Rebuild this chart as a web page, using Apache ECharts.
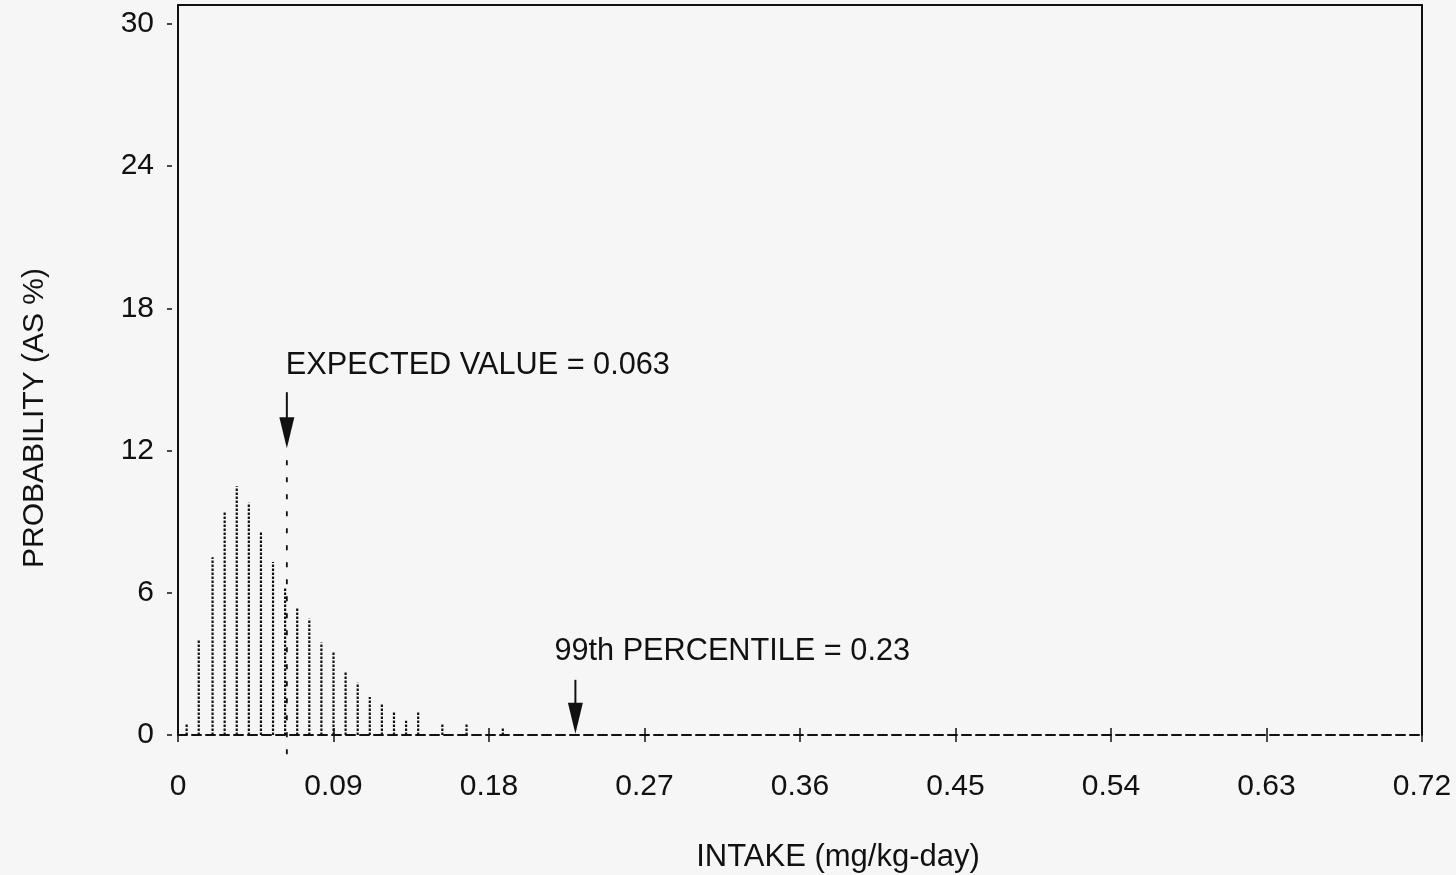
<!DOCTYPE html>
<html>
<head>
<meta charset="utf-8">
<title>Intake probability distribution</title>
<script src="https://cdn.jsdelivr.net/npm/echarts@6/dist/echarts.min.js"></script>
<style>
  html, body { margin: 0; padding: 0; background: #f6f6f6; }
  #chart { width: 1456px; height: 875px; }
</style>
</head>
<body>
<div id="chart"></div>
<script>
// Histogram columns: intake (mg/kg-day) and probability (%)
const intake = [0.005, 0.012, 0.020, 0.027, 0.034, 0.041, 0.048, 0.055, 0.062, 0.069,
                0.076, 0.083, 0.090, 0.097, 0.104, 0.111, 0.118, 0.125, 0.132, 0.139,
                0.153, 0.167, 0.188];
const probability = [0.5, 4.0, 7.5, 9.4, 10.5, 9.8, 8.6, 7.3, 6.2, 5.4,
                     4.9, 3.9, 3.5, 2.7, 2.2, 1.6, 1.35, 1.0, 0.6, 1.0,
                     0.5, 0.45, 0.3];

// Summary statistics marked with arrows
const statNames = ['EXPECTED VALUE', '99th PERCENTILE'];
const statValues = [0.063, 0.23];

// Axis ticks
const xTicks = [0, 0.09, 0.18, 0.27, 0.36, 0.45, 0.54, 0.63, 0.72];
const xTickLabels = ['0', '0.09', '0.18', '0.27', '0.36', '0.45', '0.54', '0.63', '0.72'];
const yTicks = [0, 6, 12, 18, 24, 30];
const yTickLabels = ['0', '6', '12', '18', '24', '30'];

const INK = '#111';
const FONT = '"Liberation Sans", Arial, Helvetica, sans-serif';

// Arrow placement for each statistic (probability at the arrow tip, label offsets in px)
const arrowStyle = [
  { tip: 12.1, shaft: 56, labelDx: -1, labelDy: -83, guide: true },
  { tip: 0.05, shaft: 54, labelDx: -21, labelDy: -82, guide: false }
];

const chart = echarts.init(document.getElementById('chart'), null, { renderer: 'canvas' });

const xBase = {
  type: 'value', min: 0, max: 0.72, interval: 0.09,
  splitLine: { show: false }
};
const yBase = {
  type: 'value', min: 0, max: 30.8,
  splitLine: { show: false }
};

chart.setOption({
  backgroundColor: '#f6f6f6',
  animation: false,
  grid: { left: 178, right: 34, top: 5, bottom: 140, containLabel: false, outerBoundsMode: 'none' },
  xAxis: [
    Object.assign({}, xBase, {
      position: 'bottom',
      axisLine: { show: true, onZero: false, lineStyle: { color: INK, width: 2, type: [9, 5] } },
      axisTick: { show: true, length: 7, lineStyle: { color: INK, width: 1.5 } },
      axisLabel: {
        margin: 37, color: INK, fontSize: 30, fontFamily: FONT,
        formatter: v => xTickLabels[xTicks.findIndex(t => Math.abs(t - v) < 1e-9)] ?? ''
      },
      name: 'INTAKE (mg/kg-day)', nameLocation: 'middle', nameGap: 107,
      nameTextStyle: { color: INK, fontSize: 31, fontFamily: FONT, padding: [0, 0, 0, 76] }
    }),
    Object.assign({}, xBase, {
      position: 'bottom',
      axisLine: { show: false, onZero: false },
      axisTick: { show: true, inside: true, length: 7, lineStyle: { color: INK, width: 1.5 } },
      axisLabel: { show: false }
    }),
    Object.assign({}, xBase, {
      position: 'top',
      axisLine: { show: true, onZero: false, lineStyle: { color: INK, width: 2 } },
      axisTick: { show: false },
      axisLabel: { show: false }
    })
  ],
  yAxis: [
    Object.assign({}, yBase, {
      position: 'left',
      axisLine: { show: true, onZero: false, lineStyle: { color: INK, width: 2 } },
      axisTick: { show: false },
      axisLabel: { show: false }
    }),
    Object.assign({}, yBase, {
      position: 'left', offset: 6,
      axisLine: { show: false, onZero: false },
      axisTick: { show: true, length: 5, customValues: yTicks, lineStyle: { color: INK, width: 1.5 } },
      axisLabel: {
        customValues: yTicks, margin: 18, color: INK, fontSize: 30, fontFamily: FONT,
        formatter: v => yTickLabels[yTicks.indexOf(v)] ?? ''
      },
      name: 'PROBABILITY (AS %)', nameLocation: 'middle', nameRotate: 90, nameGap: 122,
      nameTextStyle: { color: INK, fontSize: 30, fontFamily: FONT, padding: [0, 96, 0, 0] }
    }),
    Object.assign({}, yBase, {
      position: 'right',
      axisLine: { show: true, onZero: false, lineStyle: { color: INK, width: 2 } },
      axisTick: { show: false },
      axisLabel: { show: false }
    })
  ],
  series: [
    {
      // dotted histogram columns
      type: 'custom',
      xAxisIndex: 0, yAxisIndex: 0,
      silent: true,
      data: intake.map((x, i) => [x, probability[i]]),
      renderItem: (params, api) => {
        const base = api.coord([api.value(0), 0]);
        const top = api.coord([api.value(0), api.value(1)]);
        return {
          type: 'line',
          shape: { x1: base[0], y1: base[1], x2: top[0], y2: top[1] },
          style: { stroke: INK, lineWidth: 2.2, lineDash: [2.5, 1.5] }
        };
      }
    },
    {
      // arrows and labels for the expected value and 99th percentile
      type: 'custom',
      xAxisIndex: 0, yAxisIndex: 0,
      silent: true,
      clip: false,
      z: 5,
      data: statValues.map((v, i) => [v, i]),
      renderItem: (params, api) => {
        const i = api.value(1);
        const v = api.value(0);
        const st = arrowStyle[i];
        const tip = api.coord([v, st.tip]);
        const axisPt = api.coord([v, 0]);
        const x = tip[0], y = tip[1];
        const children = [
          { type: 'line', shape: { x1: x, y1: y - st.shaft, x2: x, y2: y - 24 },
            style: { stroke: INK, lineWidth: 2 } },
          { type: 'polygon', shape: { points: [[x - 7.5, y - 31], [x + 7.5, y - 31], [x, y]] },
            style: { fill: INK } },
          { type: 'text', x: x + st.labelDx, y: y + st.labelDy,
            style: { text: statNames[i] + ' = ' + v, fill: INK, fontSize: 30.7, fontFamily: FONT,
                     align: 'left', verticalAlign: 'middle' } }
        ];
        if (st.guide) {
          children.push({ type: 'line',
            shape: { x1: x, y1: y + 12, x2: x, y2: axisPt[1] + 20 },
            style: { stroke: INK, lineWidth: 1.8, lineDash: [5, 12] } });
        }
        return { type: 'group', children };
      }
    }
  ]
});
</script>
</body>
</html>
